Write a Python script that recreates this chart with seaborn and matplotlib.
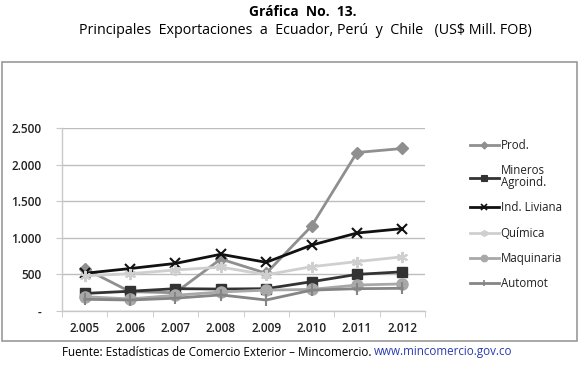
import matplotlib
matplotlib.use("Agg")
import matplotlib.pyplot as plt
import seaborn as sns
import pandas as pd
from matplotlib.patches import Rectangle
from matplotlib.lines import Line2D

years = ["2.005", "2.006", "2.007", "2.008", "2.009", "2.010", "2.011", "2.012"]
prod_mineros = [580, 264, 250, 710, 515, 1160, 2165, 2220]
agroind = [240, 270, 305, 300, 305, 400, 500, 535]
ind_liviana = [515, 580, 650, 775, 665, 900, 1065, 1125]
quimica = [480, 510, 560, 600, 495, 605, 675, 740]
maquinaria = [195, 165, 215, 260, 285, 295, 355, 370]
automot = [160, 150, 175, 220, 150, 285, 305, 310]
series_names = ["Prod.", "Mineros\nAgroind.", "Ind. Liviana", "Química", "Maquinaria", "Automot"]
y_ticks = [0, 500, 1000, 1500, 2000, 2500]
y_labels = ["-", "500", "1.000", "1.500", "2.000", "2.500"]

series = [prod_mineros, agroind, ind_liviana, quimica, maquinaria, automot]
styles = [
    dict(color="#8f8f8f", marker="D", markersize=6, lw=2.0),
    dict(color="#333333", marker="s", markersize=7, lw=2.0),
    dict(color="#111111", marker="x", markersize=7, lw=2.0, mew=1.5),
    dict(color="#cfcfcf", marker=(6, 2, 0), markersize=8, lw=2.0, mew=1.5),
    dict(color="#a8a8a8", marker="o", markersize=8, lw=2.0),
    dict(color="#858585", marker="|", markersize=8, lw=2.0, mew=1.5),
]

plt.rcParams['font.family'] = ['Open Sans', 'DejaVu Sans']
fig = plt.figure(figsize=(5.8, 3.65), dpi=100)
ax = fig.add_axes([62/580, 1-311/365, (425-62)/580, (311-128)/365])

handles = []
for name, vals, st in zip(series_names, series, styles):
    df = pd.DataFrame({"year": years, "value": vals})
    sns.lineplot(data=df, x="year", y="value", ax=ax,
                 color=st["color"], marker=st["marker"], markersize=st["markersize"],
                 linewidth=st["lw"], markeredgewidth=st.get("mew", 1),
                 markeredgecolor=st["color"], sort=False, legend=False)
    handles.append(Line2D([], [], color=st["color"], marker=st["marker"],
                          markersize=st["markersize"] * 0.6, lw=st["lw"],
                          markeredgewidth=st.get("mew", 1) * 0.8,
                          markeredgecolor=st["color"], label=name))

ax.set_xlim(-0.5, len(years) - 0.5)
ax.set_ylim(0, 2500)
ax.set_yticks(y_ticks)
ax.set_yticklabels(y_labels)
ax.set_xlabel("")
ax.set_ylabel("")
ax.grid(axis="y", color="#bdbdbd", lw=1)
ax.set_axisbelow(True)
for s in ["top", "right"]:
    ax.spines[s].set_visible(False)
for s in ["left", "bottom"]:
    ax.spines[s].set_color("#c8c8c8")
    ax.spines[s].set_linewidth(1)
ax.tick_params(axis="x", which="major", length=0, pad=8, labelsize=8.5, labelcolor="#222222")
ax.set_xticks([i + 0.5 for i in range(-1, len(years))], minor=True)
ax.tick_params(axis="x", which="minor", length=4, color="#c8c8c8")
ax.tick_params(axis="y", length=4, color="#c8c8c8", pad=11, labelsize=8.5, labelcolor="#222222")
for lab in ax.get_xticklabels() + ax.get_yticklabels():
    lab.set_fontweight("semibold")

leg = ax.legend(handles=handles, loc="upper left", bbox_to_anchor=(470/580, 1-139/365),
                bbox_transform=fig.transFigure, frameon=False, fontsize=8.3,
                handlelength=2.5, handletextpad=0.15, labelspacing=1.08, borderaxespad=0,
                borderpad=0)
for t in leg.get_texts():
    t.set_color("#222222")
    t.set_linespacing(0.82)

fig.patches.append(Rectangle((2/580, 1-341/365), 575/580, (341-62)/365, transform=fig.transFigure,
                             fill=False, edgecolor="#9a9a9a", lw=1.2))

fig.text(303/580, 1-12/365, "Gráfica  No.  13.", ha="center", va="center", fontsize=10, fontweight="bold")
fig.text(305/580, 1-30/365, "Principales  Exportaciones  a  Ecuador, Perú  y  Chile   (US$ Mill. FOB)",
         ha="center", va="center", fontsize=10.3)
foot_y = 1 - 352/365
t1 = fig.text(0, foot_y, "Fuente: Estadísticas de Comercio Exterior – Mincomercio. ",
              ha="left", va="center", fontsize=8.4)
t2 = fig.text(0, foot_y, "www.mincomercio.gov.co", fontsize=8.4, color="#2a3bb0",
              ha="left", va="center")
fig.canvas.draw()
r = fig.canvas.get_renderer()
w1 = t1.get_window_extent(r).width
w2 = t2.get_window_extent(r).width
x0 = 287 - (w1 + w2) / 2
t1.set_position((x0 / 580, foot_y))
t2.set_position(((x0 + w1) / 580, foot_y))

fig.savefig("out.png", dpi=100)
